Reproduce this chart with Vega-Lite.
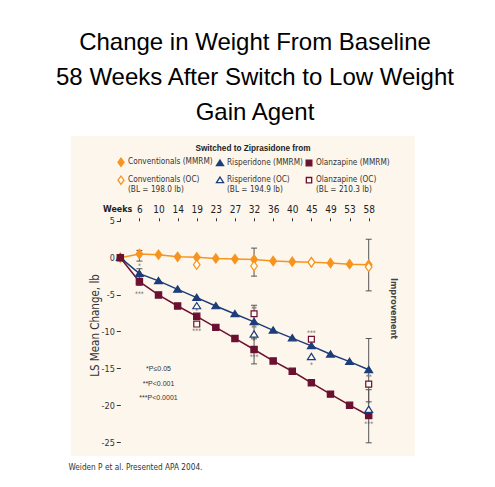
{
  "$schema": "https://vega.github.io/schema/vega-lite/v6.json",
  "width": 344,
  "height": 320,
  "autosize": "none",
  "padding": {"left": 71, "top": 136, "right": 80, "bottom": 31},
  "background": "white",
  "title": {
    "text": ["Change in Weight From Baseline", "58 Weeks After Switch to Low Weight", "Gain Agent"],
    "font": "Liberation Sans, Arial, sans-serif",
    "fontSize": 24,
    "fontWeight": "normal",
    "color": "#000000",
    "lineHeight": 35,
    "anchor": "middle",
    "dx": 12,
    "offset": 11
  },
  "config": {
    "view": {"fill": "#FDF6EC", "stroke": null},
    "axis": {"grid": false},
    "legend": {
      "orient": "none",
      "legendX": 45,
      "legendY": 9,
      "padding": 0,
      "direction": "horizontal",
      "columns": 3,
      "gridAlign": "each",
      "columnPadding": 0,
      "rowPadding": 4,
      "titleAnchor": "middle",
      "titleFont": "Liberation Sans, Arial, sans-serif",
      "titleFontSize": 8.2,
      "titleFontWeight": "bold",
      "titleColor": "#222222",
      "titlePadding": 4,
      "labelFont": "DejaVu Sans Condensed, sans-serif",
      "labelFontSize": 8.2,
      "labelColor": "#333333",
      "labelOffset": 2,
      "symbolSize": 70,
      "symbolStrokeWidth": 1.3
    }
  },
  "datasets": {
    "weights": [
      {"week": 0, "drug": "Conventionals", "method": "MMRM", "series": "Conventionals (MMRM)", "value": 0},
      {"week": 6, "drug": "Conventionals", "method": "MMRM", "series": "Conventionals (MMRM)", "value": 0.5},
      {"week": 10, "drug": "Conventionals", "method": "MMRM", "series": "Conventionals (MMRM)", "value": 0.4},
      {"week": 14, "drug": "Conventionals", "method": "MMRM", "series": "Conventionals (MMRM)", "value": 0.12},
      {"week": 19, "drug": "Conventionals", "method": "MMRM", "series": "Conventionals (MMRM)", "value": 0.05},
      {"week": 23, "drug": "Conventionals", "method": "MMRM", "series": "Conventionals (MMRM)", "value": -0.1},
      {"week": 27, "drug": "Conventionals", "method": "MMRM", "series": "Conventionals (MMRM)", "value": -0.18},
      {"week": 32, "drug": "Conventionals", "method": "MMRM", "series": "Conventionals (MMRM)", "value": -0.25},
      {"week": 36, "drug": "Conventionals", "method": "MMRM", "series": "Conventionals (MMRM)", "value": -0.45},
      {"week": 40, "drug": "Conventionals", "method": "MMRM", "series": "Conventionals (MMRM)", "value": -0.54},
      {"week": 45, "drug": "Conventionals", "method": "MMRM", "series": "Conventionals (MMRM)", "value": -0.62},
      {"week": 49, "drug": "Conventionals", "method": "MMRM", "series": "Conventionals (MMRM)", "value": -0.72},
      {"week": 53, "drug": "Conventionals", "method": "MMRM", "series": "Conventionals (MMRM)", "value": -0.88},
      {"week": 58, "drug": "Conventionals", "method": "MMRM", "series": "Conventionals (MMRM)", "value": -0.95},
      {"week": 0, "drug": "Risperidone", "method": "MMRM", "series": "Risperidone (MMRM)", "value": 0},
      {"week": 6, "drug": "Risperidone", "method": "MMRM", "series": "Risperidone (MMRM)", "value": -2.17},
      {"week": 10, "drug": "Risperidone", "method": "MMRM", "series": "Risperidone (MMRM)", "value": -3.15},
      {"week": 14, "drug": "Risperidone", "method": "MMRM", "series": "Risperidone (MMRM)", "value": -4.3},
      {"week": 19, "drug": "Risperidone", "method": "MMRM", "series": "Risperidone (MMRM)", "value": -5.42},
      {"week": 23, "drug": "Risperidone", "method": "MMRM", "series": "Risperidone (MMRM)", "value": -6.55},
      {"week": 27, "drug": "Risperidone", "method": "MMRM", "series": "Risperidone (MMRM)", "value": -7.63},
      {"week": 32, "drug": "Risperidone", "method": "MMRM", "series": "Risperidone (MMRM)", "value": -8.7},
      {"week": 36, "drug": "Risperidone", "method": "MMRM", "series": "Risperidone (MMRM)", "value": -9.85},
      {"week": 40, "drug": "Risperidone", "method": "MMRM", "series": "Risperidone (MMRM)", "value": -10.9},
      {"week": 45, "drug": "Risperidone", "method": "MMRM", "series": "Risperidone (MMRM)", "value": -11.96},
      {"week": 49, "drug": "Risperidone", "method": "MMRM", "series": "Risperidone (MMRM)", "value": -13.1},
      {"week": 53, "drug": "Risperidone", "method": "MMRM", "series": "Risperidone (MMRM)", "value": -14.1},
      {"week": 58, "drug": "Risperidone", "method": "MMRM", "series": "Risperidone (MMRM)", "value": -15.2},
      {"week": 0, "drug": "Olanzapine", "method": "MMRM", "series": "Olanzapine (MMRM)", "value": 0},
      {"week": 6, "drug": "Olanzapine", "method": "MMRM", "series": "Olanzapine (MMRM)", "value": -3.25},
      {"week": 10, "drug": "Olanzapine", "method": "MMRM", "series": "Olanzapine (MMRM)", "value": -5.05},
      {"week": 14, "drug": "Olanzapine", "method": "MMRM", "series": "Olanzapine (MMRM)", "value": -6.55},
      {"week": 19, "drug": "Olanzapine", "method": "MMRM", "series": "Olanzapine (MMRM)", "value": -7.95},
      {"week": 23, "drug": "Olanzapine", "method": "MMRM", "series": "Olanzapine (MMRM)", "value": -9.45},
      {"week": 27, "drug": "Olanzapine", "method": "MMRM", "series": "Olanzapine (MMRM)", "value": -10.95},
      {"week": 32, "drug": "Olanzapine", "method": "MMRM", "series": "Olanzapine (MMRM)", "value": -12.45},
      {"week": 36, "drug": "Olanzapine", "method": "MMRM", "series": "Olanzapine (MMRM)", "value": -14.0},
      {"week": 40, "drug": "Olanzapine", "method": "MMRM", "series": "Olanzapine (MMRM)", "value": -15.4},
      {"week": 45, "drug": "Olanzapine", "method": "MMRM", "series": "Olanzapine (MMRM)", "value": -16.97},
      {"week": 49, "drug": "Olanzapine", "method": "MMRM", "series": "Olanzapine (MMRM)", "value": -18.5},
      {"week": 53, "drug": "Olanzapine", "method": "MMRM", "series": "Olanzapine (MMRM)", "value": -20.0},
      {"week": 58, "drug": "Olanzapine", "method": "MMRM", "series": "Olanzapine (MMRM)", "value": -21.4},
      {"week": 19, "drug": "Conventionals", "method": "OC", "series": "Conventionals (OC)", "value": -0.95},
      {"week": 32, "drug": "Conventionals", "method": "OC", "series": "Conventionals (OC)", "value": -1.13},
      {"week": 45, "drug": "Conventionals", "method": "OC", "series": "Conventionals (OC)", "value": -0.62},
      {"week": 58, "drug": "Conventionals", "method": "OC", "series": "Conventionals (OC)", "value": -1.25},
      {"week": 19, "drug": "Risperidone", "method": "OC", "series": "Risperidone (OC)", "value": -6.55},
      {"week": 32, "drug": "Risperidone", "method": "OC", "series": "Risperidone (OC)", "value": -10.4},
      {"week": 45, "drug": "Risperidone", "method": "OC", "series": "Risperidone (OC)", "value": -13.45},
      {"week": 58, "drug": "Risperidone", "method": "OC", "series": "Risperidone (OC)", "value": -20.6},
      {"week": 19, "drug": "Olanzapine", "method": "OC", "series": "Olanzapine (OC)", "value": -9.0},
      {"week": 32, "drug": "Olanzapine", "method": "OC", "series": "Olanzapine (OC)", "value": -7.6},
      {"week": 45, "drug": "Olanzapine", "method": "OC", "series": "Olanzapine (OC)", "value": -11.06},
      {"week": 58, "drug": "Olanzapine", "method": "OC", "series": "Olanzapine (OC)", "value": -17.15}
    ],
    "errors": [
      {"week": 6, "drug": "Conventionals", "lo": -0.46, "hi": 0.99},
      {"week": 6, "drug": "Risperidone", "lo": -2.8, "hi": -1.5},
      {"week": 6, "drug": "Olanzapine", "lo": -3.75, "hi": -2.6},
      {"week": 32, "drug": "Conventionals", "lo": -2.5, "hi": 1.3},
      {"week": 32, "drug": "Risperidone", "lo": -11.0, "hi": -6.45},
      {"week": 32, "drug": "Olanzapine", "lo": -14.4, "hi": -10.5},
      {"week": 58, "drug": "Conventionals", "lo": -4.5, "hi": 2.5},
      {"week": 58, "drug": "Risperidone", "lo": -19.54, "hi": -10.96},
      {"week": 58, "drug": "Olanzapine", "lo": -25.1, "hi": -17.9}
    ],
    "stars": [
      {"week": 6, "value": -1.15, "text": "*"},
      {"week": 6, "value": -4.9, "text": "***"},
      {"week": 19, "value": -7.25, "text": "*"},
      {"week": 19, "value": -10.0, "text": "***"},
      {"week": 32, "value": -6.9, "text": "**"},
      {"week": 32, "value": -9.6, "text": "**"},
      {"week": 32, "value": -11.3, "text": "*"},
      {"week": 32, "value": -13.45, "text": "***"},
      {"week": 45, "value": -10.2, "text": "***"},
      {"week": 45, "value": -14.6, "text": "*"},
      {"week": 58, "value": -16.2, "text": "**"},
      {"week": 58, "value": -19.9, "text": "*"},
      {"week": 58, "value": -22.6, "text": "***"}
    ],
    "key": [
      {"week": 10, "value": -15.15, "text": "*P≤0.05"},
      {"week": 10, "value": -17.1, "text": "**P<0.001"},
      {"week": 10, "value": -19.0, "text": "***P<0.0001"}
    ]
  },
  "encoding": {
    "x": {
      "field": "week",
      "type": "ordinal",
      "axis": null,
      "scale": {"type": "point", "padding": 0, "range": [49.3, 297.7], "domain": [0, 6, 10, 14, 19, 23, 27, 32, 36, 40, 45, 49, 53, 58]}
    },
    "y": {
      "field": "value",
      "type": "quantitative",
      "axis": null,
      "scale": {"domain": [-26.89, 16.5], "nice": false, "zero": false}
    }
  },
  "resolve": {"axis": {"x": "independent", "y": "independent"}},
  "layer": [
    {
      "data": {"values": [{}]},
      "mark": {"type": "rule", "color": "#333333", "strokeWidth": 1},
      "encoding": {
        "x": {"datum": 0, "type": "ordinal", "axis": null},
        "y": {"datum": 5, "type": "quantitative", "axis": null},
        "y2": {"datum": -25}
      }
    },
    {
      "data": {"values": [{}]},
      "mark": {"type": "rule", "color": "#333333", "strokeWidth": 1},
      "encoding": {
        "x": {"datum": 0, "type": "ordinal", "axis": null},
        "x2": {"datum": 58},
        "y": {"datum": 5, "type": "quantitative", "axis": null}
      }
    },
    {
      "data": {"name": "weights"},
      "transform": [{"filter": "datum.method == 'MMRM'"}],
      "mark": {"type": "line", "strokeWidth": 1.5},
      "encoding": {
        "x": {
          "field": "week",
          "type": "ordinal",
          "scale": {"type": "point", "padding": 0, "range": [49.3, 297.7], "domain": [0, 6, 10, 14, 19, 23, 27, 32, 36, 40, 45, 49, 53, 58]},
          "axis": {
            "orient": "top",
            "offset": -84.8,
            "domain": false,
            "ticks": true,
            "tickSize": 3,
            "tickColor": "#333333",
            "labelExpr": "datum.value == 0 ? '' : datum.label",
            "labelAngle": 0,
            "labelFont": "DejaVu Sans Condensed, sans-serif",
            "labelFontSize": 10,
            "labelColor": "#222222",
            "labelPadding": 3,
            "title": "Weeks",
            "titleFont": "DejaVu Sans Condensed, sans-serif",
            "titleFontSize": 8.8,
            "titleFontWeight": "bold",
            "titleColor": "#222222",
            "titleAngle": 0,
            "titleAlign": "right",
            "titleX": 60.7,
            "titleY": -12.5,
            "titleBaseline": "middle"
          }
        },
        "y": {
          "field": "value",
          "type": "quantitative",
          "scale": {"domain": [-26.89, 16.5], "nice": false, "zero": false},
          "axis": {
            "orient": "left",
            "offset": -49.3,
            "values": [5, 0, -5, -10, -15, -20, -25],
            "domain": false,
            "tickSize": 4,
            "tickColor": "#333333",
            "labelExpr": "'' + datum.value",
            "labelFont": "DejaVu Sans Condensed, sans-serif",
            "labelFontSize": 9,
            "labelColor": "#333333",
            "labelPadding": 2,
            "title": "LS Mean Change, lb",
            "titleFont": "DejaVu Sans Condensed, sans-serif",
            "titleFontSize": 11.5,
            "titleFontWeight": "normal",
            "titleColor": "#333333",
            "titleAngle": -90,
            "titleX": -25,
            "titleY": 189,
            "titleAlign": "center",
            "titleBaseline": "middle"
          }
        },
        "color": {
          "field": "drug",
          "type": "nominal",
          "scale": {"domain": ["Conventionals", "Risperidone", "Olanzapine"], "range": ["#F7941D", "#1C3D7A", "#6B1030"]},
          "legend": null
        }
      }
    },
    {
      "data": {"name": "errors"},
      "mark": {"type": "rule", "color": "#555555", "strokeWidth": 1},
      "encoding": {
        "x": {"field": "week", "type": "ordinal", "axis": null},
        "y": {"field": "lo", "type": "quantitative", "axis": null},
        "y2": {"field": "hi"}
      }
    },
    {
      "data": {"name": "errors"},
      "transform": [{"fold": ["lo", "hi"], "as": ["end", "bound"]}],
      "mark": {"type": "tick", "color": "#555555", "thickness": 1, "size": 6, "orient": "horizontal", "opacity": 1},
      "encoding": {
        "x": {"field": "week", "type": "ordinal", "axis": null},
        "y": {"field": "bound", "type": "quantitative", "axis": null}
      }
    },
    {
      "data": {"name": "weights"},
      "mark": {"type": "point", "opacity": 1, "strokeWidth": 1.2, "size": 85},
      "encoding": {
        "x": {"field": "week", "type": "ordinal", "axis": null},
        "y": {"field": "value", "type": "quantitative", "axis": null},
        "shape": {
          "field": "series",
          "type": "nominal",
          "scale": {
            "domain": ["Conventionals (MMRM)", "Risperidone (MMRM)", "Olanzapine (MMRM)", "Conventionals (OC)", "Risperidone (OC)", "Olanzapine (OC)"],
            "range": ["M0,-1L0.72,0L0,1L-0.72,0Z", "M0,-0.75L0.85,0.6L-0.85,0.6Z", "M-0.68,-0.68L0.68,-0.68L0.68,0.68L-0.68,0.68Z", "M0,-1L0.72,0L0,1L-0.72,0Z", "M0,-0.75L0.85,0.6L-0.85,0.6Z", "M-0.64,-0.64L0.64,-0.64L0.64,0.64L-0.64,0.64Z"]
          },
          "legend": {
            "title": "Switched to Ziprasidone from",
            "labelExpr": "datum.label == 'Conventionals (OC)' ? ['Conventionals (OC)', '(BL = 198.0 lb)'] : datum.label == 'Risperidone (OC)' ? ['Risperidone (OC)', '(BL = 194.9 lb)'] : datum.label == 'Olanzapine (OC)' ? ['Olanzapine (OC)', '(BL = 210.3 lb)'] : datum.label"
          }
        },
        "fill": {
          "field": "series",
          "type": "nominal",
          "scale": {
            "domain": ["Conventionals (MMRM)", "Risperidone (MMRM)", "Olanzapine (MMRM)", "Conventionals (OC)", "Risperidone (OC)", "Olanzapine (OC)"],
            "range": ["#F7941D", "#1C3D7A", "#6B1030", "#FFFBF5", "#FFFBF5", "#FFFBF5"]
          },
          "legend": {
            "title": "Switched to Ziprasidone from",
            "labelExpr": "datum.label == 'Conventionals (OC)' ? ['Conventionals (OC)', '(BL = 198.0 lb)'] : datum.label == 'Risperidone (OC)' ? ['Risperidone (OC)', '(BL = 194.9 lb)'] : datum.label == 'Olanzapine (OC)' ? ['Olanzapine (OC)', '(BL = 210.3 lb)'] : datum.label"
          }
        },
        "stroke": {
          "field": "series",
          "type": "nominal",
          "scale": {
            "domain": ["Conventionals (MMRM)", "Risperidone (MMRM)", "Olanzapine (MMRM)", "Conventionals (OC)", "Risperidone (OC)", "Olanzapine (OC)"],
            "range": ["#F7941D", "#1C3D7A", "#6B1030", "#F7941D", "#1C3D7A", "#6B1030"]
          },
          "legend": {
            "title": "Switched to Ziprasidone from",
            "labelExpr": "datum.label == 'Conventionals (OC)' ? ['Conventionals (OC)', '(BL = 198.0 lb)'] : datum.label == 'Risperidone (OC)' ? ['Risperidone (OC)', '(BL = 194.9 lb)'] : datum.label == 'Olanzapine (OC)' ? ['Olanzapine (OC)', '(BL = 210.3 lb)'] : datum.label"
          }
        }
      }
    },
    {
      "data": {"name": "stars"},
      "mark": {"type": "text", "font": "DejaVu Sans Condensed, sans-serif", "fontSize": 6.5, "color": "#555555", "baseline": "middle", "align": "center"},
      "encoding": {
        "x": {"field": "week", "type": "ordinal", "axis": null},
        "y": {"field": "value", "type": "quantitative", "axis": null},
        "text": {"field": "text"}
      }
    },
    {
      "data": {"name": "key"},
      "mark": {"type": "text", "font": "Liberation Sans, Arial, sans-serif", "fontSize": 7, "color": "#333333", "baseline": "middle", "align": "center"},
      "encoding": {
        "x": {"field": "week", "type": "ordinal", "axis": null},
        "y": {"field": "value", "type": "quantitative", "axis": null},
        "text": {"field": "text"}
      }
    },
    {
      "data": {"values": [{}]},
      "mark": {"type": "rule", "color": "#F7941D", "strokeWidth": 1.6, "xOffset": 16.3},
      "encoding": {
        "x": {
          "datum": 58,
          "type": "ordinal",
          "axis": {
            "orient": "bottom",
            "domain": false,
            "ticks": false,
            "labels": false,
            "title": "Weiden P et al. Presented APA 2004.",
            "titleFont": "DejaVu Sans Condensed, sans-serif",
            "titleFontSize": 8.2,
            "titleFontWeight": "normal",
            "titleColor": "#333333",
            "titleAlign": "left",
            "titleAnchor": "start",
            "titleX": -3,
            "titleY": 11,
            "titleBaseline": "middle"
          }
        },
        "y": {
          "datum": 6.56,
          "type": "quantitative",
          "axis": {
            "orient": "right",
            "domain": false,
            "ticks": false,
            "labels": false,
            "title": "Improvement",
            "titleFont": "DejaVu Sans Condensed, sans-serif",
            "titleFontSize": 9,
            "titleFontWeight": "bold",
            "titleColor": "#444444",
            "titleAngle": 90,
            "titleX": -21.7,
            "titleY": 172,
            "titleAlign": "center",
            "titleBaseline": "middle"
          }
        },
        "y2": {"datum": -23.6}
      }
    },
    {
      "data": {"values": [{}]},
      "mark": {"type": "point", "shape": "triangle-down", "filled": true, "opacity": 1, "color": "#F7941D", "size": 55, "xOffset": 16.3},
      "encoding": {
        "x": {"datum": 58, "type": "ordinal", "axis": null},
        "y": {"datum": -24.1, "type": "quantitative", "axis": null}
      }
    }
  ]
}
